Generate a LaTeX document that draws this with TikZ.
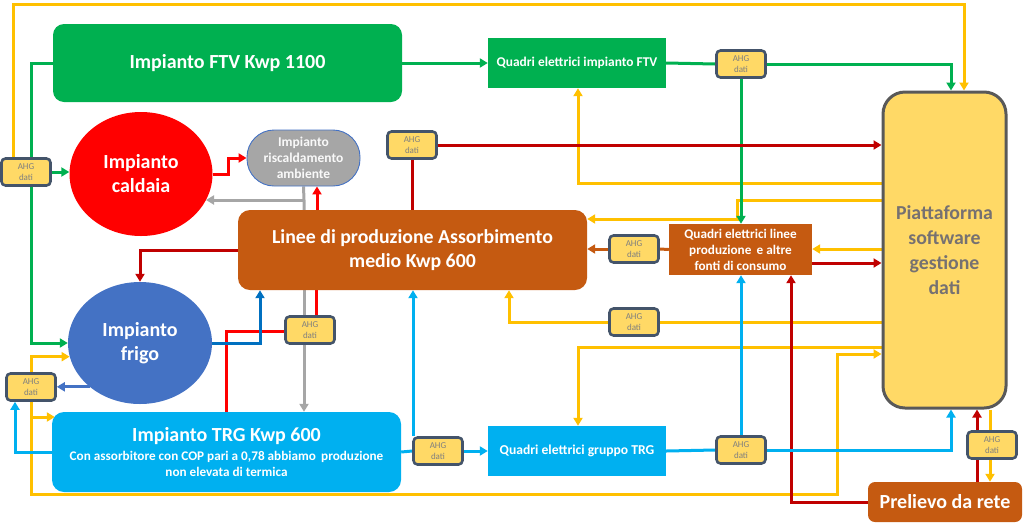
\documentclass[tikz,border=0pt]{standalone}
\usepackage{fontspec}
\setmainfont{Carlito}
\usetikzlibrary{shapes.geometric,arrows.meta,calc}
\pgfdeclarelayer{bg}
\pgfsetlayers{bg,main}
\definecolor{cgreen}{HTML}{00B050}
\definecolor{cyellow}{HTML}{FFC000}
\definecolor{cdred}{HTML}{C00000}
\definecolor{cred}{HTML}{FF0000}
\definecolor{cbrown}{HTML}{C55A11}
\definecolor{ccyan}{HTML}{00B0F0}
\definecolor{cblue}{HTML}{4472C4}
\definecolor{cdblue}{HTML}{0070C0}
\definecolor{cgray}{HTML}{A6A6A6}
\definecolor{yfill}{HTML}{FFD966}
\definecolor{ahgborder}{HTML}{44546A}
\definecolor{piattborder}{HTML}{595959}
\definecolor{piattext}{HTML}{767171}
\definecolor{ahgtext}{HTML}{7F7F7F}
\begin{document}
\begin{tikzpicture}[x=1pt,y=-1pt,
  box/.style={inner sep=2pt, align=center, text=white, font=\bfseries},
  ahg/.style={draw=ahgborder, fill=yfill, line width=2.6pt, rounded corners=4pt,
    minimum width=49pt, minimum height=27pt, inner sep=0pt, align=center,
    text=ahgtext, font=\fontsize{9}{11}\selectfont},
  ln/.style={line width=3pt},
  arr/.style={-{Triangle[length=8pt,width=9pt]}}]
\useasboundingbox (0,0) rectangle (1024,528);

% main nodes
\node[box, fill=cgreen, rounded corners=11pt, minimum width=349pt, minimum height=78pt,
  font=\bfseries\fontsize{20}{24}\selectfont] (ftv) at (227.5,63) {Impianto FTV Kwp 1100};
\node[box, fill=cgreen, minimum width=178pt, minimum height=50pt,
  font=\bfseries\fontsize{13.4}{16}\selectfont] (qftv) at (577,63) {Quadri elettrici impianto FTV};
\node[box, fill=yfill, draw=piattborder, line width=3pt, rounded corners=22pt,
  minimum width=123pt, minimum height=316pt, text=piattext,
  font=\bfseries\fontsize{19.8}{25}\selectfont] (piatt) at (944.5,250) {Piattaforma\\software\\gestione\\dati};
\node[box, ellipse, fill=cred, minimum width=143pt, minimum height=124pt, inner sep=0pt,
  font=\bfseries\fontsize{20}{24}\selectfont] (caldaia) at (141,174) {Impianto\\caldaia};
\node[box, fill=cgray, draw=cblue, line width=0.9pt, rounded corners=27pt,
  minimum width=113pt, minimum height=56pt, text=white!95!gray, inner sep=0pt,
  font=\bfseries\fontsize{13.5}{16}\selectfont] (risc) at (303.5,158) {Impianto\\riscaldamento\\ambiente};
\node[box, fill=cbrown, rounded corners=12pt, minimum width=349pt, minimum height=80pt,
  font=\bfseries\fontsize{19.8}{24}\selectfont] (linee) at (412.5,250) {Linee di produzione Assorbimento\\medio Kwp 600};
\node[box, fill=cbrown, minimum width=143pt, minimum height=51pt, inner sep=0pt,
  font=\bfseries\fontsize{13.2}{16}\selectfont] (qlin) at (740.5,249.5) {Quadri elettrici linee\\produzione\, e altre\\fonti di consumo};
\node[box, ellipse, fill=cblue, minimum width=144pt, minimum height=122pt, inner sep=0pt,
  font=\bfseries\fontsize{20}{24}\selectfont] (frigo) at (140,343) {Impianto\\frigo};
\node[box, fill=ccyan, rounded corners=12pt, minimum width=349pt, minimum height=80pt] (trg) at (226.5,452) {};
\node[box, font=\bfseries\fontsize{20}{24}\selectfont] (trgtitle) at (226.5,436) {Impianto TRG Kwp 600};
\node[box, font=\bfseries\fontsize{13.2}{16}\selectfont] (trgsub) at (226.5,464) {Con assorbitore con COP pari a 0,78 abbiamo\, produzione\\non elevata di termica};
\node[box, fill=ccyan, minimum width=178pt, minimum height=50pt,
  font=\bfseries\fontsize{13.6}{16}\selectfont] (qtrg) at (577,451) {Quadri elettrici gruppo TRG};
\node[box, fill=cbrown, rounded corners=7pt, minimum width=154pt, minimum height=40pt,
  font=\bfseries\fontsize{20}{24}\selectfont] (prel) at (945,502) {Prelievo da rete};

% AHG boxes
\node[ahg] (A1) at (26,172) {AHG\\dati};
\node[ahg] (A2) at (412,145) {AHG\\dati};
\node[ahg] (A3) at (741,64) {AHG\\dati};
\node[ahg] (A4) at (634,249) {AHG\\dati};
\node[ahg] (A5) at (634,322) {AHG\\dati};
\node[ahg] (A6) at (310,330) {AHG\\dati};
\node[ahg] (A7) at (31,387) {AHG\\dati};
\node[ahg] (A8) at (438,451) {AHG\\dati};
\node[ahg] (A9) at (741,450) {AHG\\dati};
\node[ahg] (A10) at (992,445) {AHG\\dati};

\coordinate (g1) at (304,200);

\begin{pgfonlayer}{bg}
% yellow
\draw[ln,cyellow,arr] (13,0 |- A1.north) -- (13,4) -- (964,4) -- (964,0 |- piatt.north);
\draw[ln,cyellow,arr] (piatt.west |- 0,183) -- (578,183) -- (578,0 |- qftv.south);
\draw[ln,cyellow,arr] (piatt.west |- 0,200) -- (737,200) -- (737,219) -- (linee.east |- 0,219);
\draw[ln,cyellow,arr] (piatt.west |- 0,249) -- (qlin.east |- 0,249);
\draw[ln,cyellow] (piatt.west |- A5.east) -- (A5.east);
\draw[ln,cyellow,arr] (A5.west) -- (509,0 |- A5.west) -- (509,0 |- linee.south);
\draw[ln,cyellow,arr] (piatt.west |- 0,347) -- (578,347) -- (578,0 |- qtrg.north);
\draw[ln,cyellow,arr] (A7.south) -- (31,494) -- (837,494) -- (837,354) -- (piatt.west |- 0,354);
\draw[ln,cyellow,arr] (A7.north) |- (frigo.191);
\draw[ln,cyellow,arr] (31,417) -- ([xshift=3pt]trg.west |- 0,417);
\draw[ln,cyellow,arr] (990,0 |- piatt.south) -- (990,0 |- prel.north);
% green
\draw[ln,cgreen,arr] (ftv.east) -- (qftv.west);
\draw[ln,cgreen] (qftv.east) -- (A3.west);
\draw[ln,cgreen,arr] (A3.east) -- (951,0 |- A3.east) -- (951,0 |- piatt.north);
\draw[ln,cgreen,arr] (A3.south) -- (A3.south |- qlin.north);
\draw[ln,cgreen,arr] (ftv.west) -- (31,0 |- ftv.west) -- (31,0 |- frigo.west) -- (frigo.west);
\draw[ln,cgreen,arr] (A1.east) -- (caldaia.west |- A1.east);
% dark red
\draw[ln,cdred] (A2.south) -- (A2.south |- linee.north);
\draw[ln,cdred,arr] (A2.east) -- (piatt.west |- A2.east);
\draw[ln,cdred,arr] (qlin.east |- 0,263) -- (piatt.west |- 0,263);
\draw[ln,cdred,arr] (linee.west) -| (frigo.north);
\draw[ln,cdred,arr] (prel.west) -- (791,0 |- prel.west) -- (791,0 |- qlin.south);
\draw[ln,cdred,arr] (977,0 |- prel.north) -- (977,0 |- piatt.south);
% bright red
\draw[ln,cred,arr] (caldaia.east) -- ++(16,0) |- (risc.west);
\draw[ln,cred,arr] (317,0 |- linee.north) -- (317,0 |- risc.south);
\draw[ln,cred] (226,0 |- trg.north) -- (226,331) -- (A6.west |- 0,331);
\draw[ln,cred] (316,0 |- A6.north) -- (316,0 |- linee.south);
% gray
\draw[ln,cgray] (risc.south) -- (g1) -- (304,0 |- linee.north);
\draw[ln,cgray,arr] (g1) -- (caldaia.-22 |- g1);
\draw[ln,cgray,arr] (304,0 |- linee.south) -- (304,0 |- trg.north);
% brown
\draw[ln,cbrown] (qlin.west) -- (A4.east);
\draw[ln,cbrown,arr] (A4.west) -- (linee.east |- A4.west);
% blue
\draw[ln,cdblue,arr] (frigo.east) -- (260,0 |- frigo.east) -- (260,0 |- linee.south);
\draw[ln,cblue,arr] (frigo.221) -- (frigo.221 -| A7.east);
% cyan
\draw[ln,ccyan,arr] (trg.west) -- (15,0 |- trg.west) -- (15,0 |- A7.south);
\draw[ln,ccyan] (trg.east) -- (A8.west);
\draw[ln,ccyan,arr] (A8.east) -- (qtrg.west);
\draw[ln,ccyan,arr] (413,0 |- A8.north) -- (413,0 |- linee.south);
\draw[ln,ccyan] (qtrg.east) -- (A9.west);
\draw[ln,ccyan,arr] (A9.east) -- (951,0 |- A9.east) -- (951,0 |- piatt.south);
\draw[ln,ccyan,arr] (A9.north) -- (A9.north |- qlin.south);
\end{pgfonlayer}
\end{tikzpicture}
\end{document}
